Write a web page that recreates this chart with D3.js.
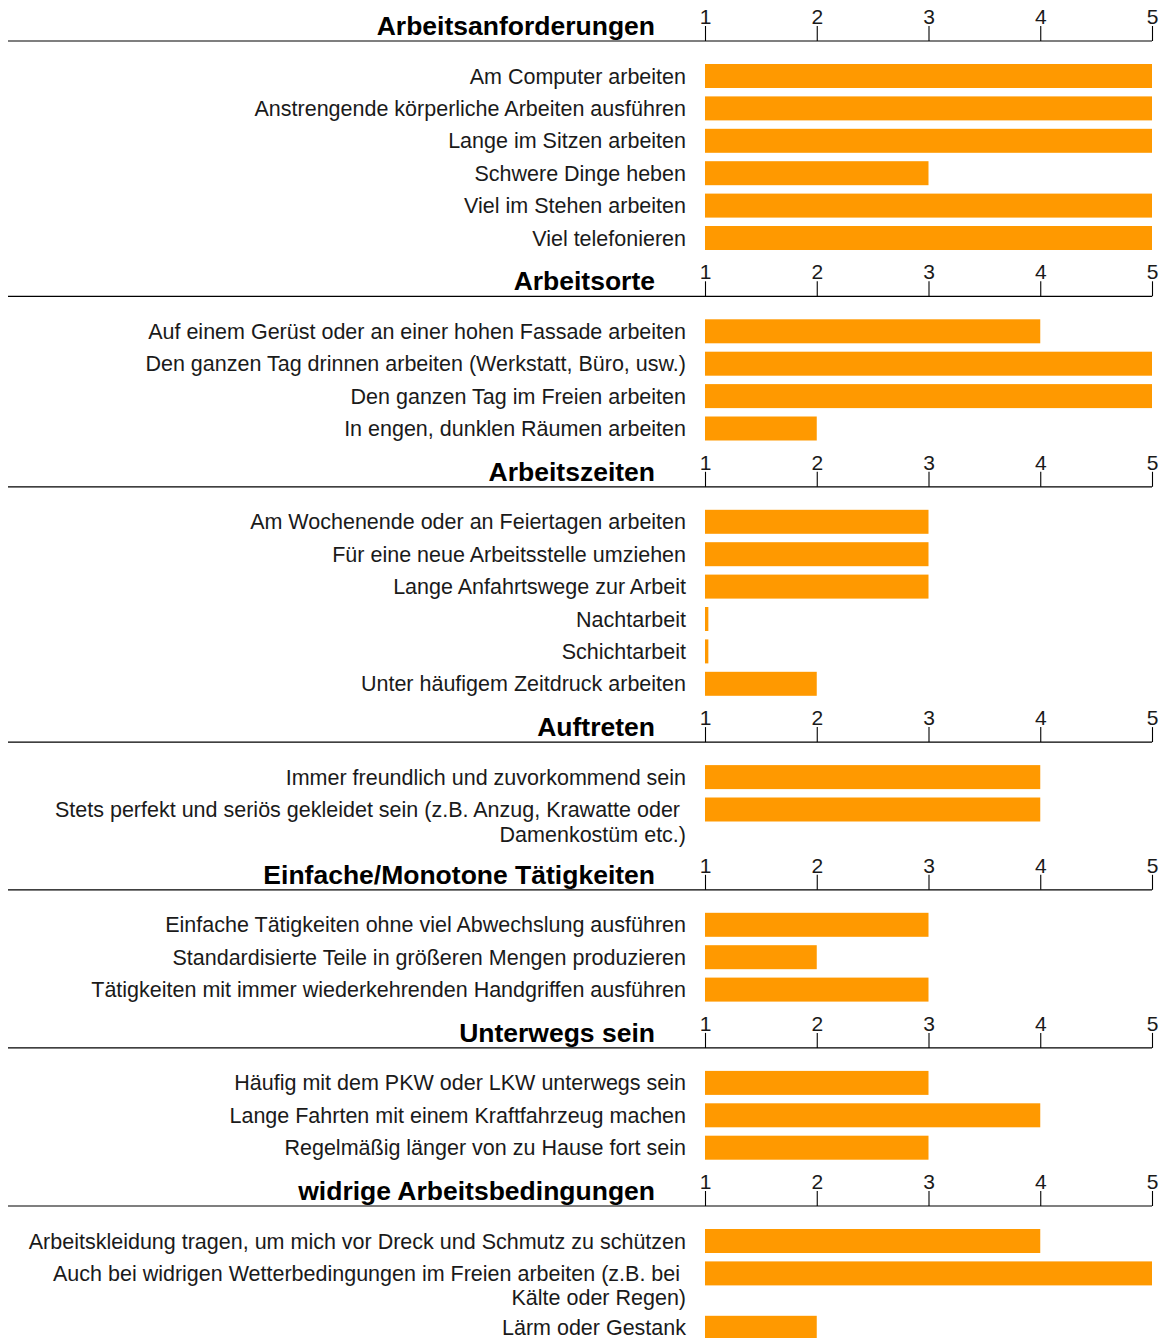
<!DOCTYPE html>
<html><head><meta charset="utf-8">
<script src="https://cdn.jsdelivr.net/npm/d3@7"></script>
<style>
html,body{margin:0;padding:0;background:#fff;}
text{font-family:"Liberation Sans",Arial,sans-serif;}
</style></head>
<body>
<svg id="chart" width="1163" height="1338"></svg>
<script>
// ---- data ----
const sectionTitles = ["Arbeitsanforderungen","Arbeitsorte","Arbeitszeiten","Auftreten","Einfache/Monotone Tätigkeiten","Unterwegs sein","widrige Arbeitsbedingungen"];
const tickValues = [1,2,3,4,5];
const tickLabels = ["1","2","3","4","5"];

const anforderungenLabels = ["Am Computer arbeiten","Anstrengende körperliche Arbeiten ausführen","Lange im Sitzen arbeiten","Schwere Dinge heben","Viel im Stehen arbeiten","Viel telefonieren"];
const anforderungenValues = [5,5,5,3,5,5];

const orteLabels = ["Auf einem Gerüst oder an einer hohen Fassade arbeiten","Den ganzen Tag drinnen arbeiten (Werkstatt, Büro, usw.)","Den ganzen Tag im Freien arbeiten","In engen, dunklen Räumen arbeiten"];
const orteValues = [4,5,5,2];

const zeitenLabels = ["Am Wochenende oder an Feiertagen arbeiten","Für eine neue Arbeitsstelle umziehen","Lange Anfahrtswege zur Arbeit","Nachtarbeit","Schichtarbeit","Unter häufigem Zeitdruck arbeiten"];
const zeitenValues = [3,3,3,1.03,1.03,2];

const auftretenLabels = ["Immer freundlich und zuvorkommend sein","Stets perfekt und seriös gekleidet sein (z.B. Anzug, Krawatte oder |Damenkostüm etc.)"];
const auftretenValues = [4,4];

const monotonLabels = ["Einfache Tätigkeiten ohne viel Abwechslung ausführen","Standardisierte Teile in größeren Mengen produzieren","Tätigkeiten mit immer wiederkehrenden Handgriffen ausführen"];
const monotonValues = [3,2,3];

const unterwegsLabels = ["Häufig mit dem PKW oder LKW unterwegs sein","Lange Fahrten mit einem Kraftfahrzeug machen","Regelmäßig länger von zu Hause fort sein"];
const unterwegsValues = [3,4,3];

const widrigLabels = ["Arbeitskleidung tragen, um mich vor Dreck und Schmutz zu schützen","Auch bei widrigen Wetterbedingungen im Freien arbeiten (z.B. bei |Kälte oder Regen)","Lärm oder Gestank"];
const widrigValues = [4,5,2];

const sectionLabels = [anforderungenLabels,orteLabels,zeitenLabels,auftretenLabels,monotonLabels,unterwegsLabels,widrigLabels];
const sectionValues = [anforderungenValues,orteValues,zeitenValues,auftretenValues,monotonValues,unterwegsValues,widrigValues];

// ---- layout ----
const svg = d3.select("#chart");
const x = d3.scaleLinear().domain([1,5]).range([705,1152]);
const barColor = "#ff9900";
const textColor = "#1a1a1a";
const rowStep = 32.4, firstOffset = 35, sectionGap = 58.3, extraLine = 22, barH = 24;
const labelRight = 686, titleRight = 655, lineLeft = 8;

let lineY = 41;
sectionTitles.forEach((title, si) => {
  const g = svg.append("g");
  // header line
  g.append("line").attr("x1", lineLeft).attr("x2", x(5)).attr("y1", lineY).attr("y2", lineY)
    .attr("stroke", "#000").attr("stroke-width", 1.2);
  // title
  g.append("text").attr("x", titleRight).attr("y", lineY - 6).attr("text-anchor", "end")
    .attr("font-size", 26.5).attr("font-weight", "bold").attr("fill", "#000").text(title);
  // axis
  const axis = d3.axisTop(x).tickValues(tickValues).tickFormat((d,i) => tickLabels[i])
    .tickSize(15).tickPadding(2);
  const ag = g.append("g").attr("transform", `translate(0,${lineY})`).call(axis);
  ag.select(".domain").remove();
  ag.selectAll(".tick line").attr("stroke", "#000").attr("stroke-width", 1.1);
  ag.selectAll(".tick text").attr("font-size", 21).attr("fill", textColor)
    .attr("font-family", '"Liberation Sans",Arial,sans-serif');

  // rows
  const labels = sectionLabels[si], values = sectionValues[si];
  let cy = lineY + firstOffset;
  labels.forEach((lab, ri) => {
    const lines = lab.split("|");
    const t = g.append("text").attr("text-anchor", "end").attr("font-size", 21.5)
      .attr("fill", textColor).style("white-space", "pre");
    lines.forEach((ln, li) => {
      t.append("tspan").attr("x", labelRight).attr("y", cy + li * 24.5).attr("dy", "0.35em").text(ln);
    });
    g.append("rect").attr("x", x(1)).attr("y", cy - barH / 2)
      .attr("width", x(values[ri]) - x(1)).attr("height", barH).attr("fill", barColor);
    const extra = (lines.length - 1) * extraLine;
    if (ri < labels.length - 1) cy += rowStep + extra;
    else lineY = cy + sectionGap + extra;
  });
});
</script>
</body></html>
